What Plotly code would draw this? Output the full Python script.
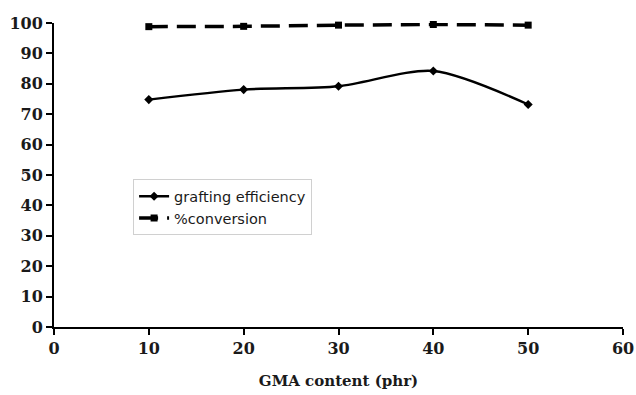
import plotly.graph_objects as go

gma_content = [10, 20, 30, 40, 50]
grafting_efficiency = [74.8, 78.1, 79.2, 84.2, 73.2]
conversion = [98.8, 98.9, 99.3, 99.5, 99.3]

x_ticks = [0, 10, 20, 30, 40, 50, 60]
y_ticks = [0, 10, 20, 30, 40, 50, 60, 70, 80, 90, 100]

fig = go.Figure()
fig.add_trace(go.Scatter(
    x=gma_content, y=grafting_efficiency, name="grafting efficiency",
    mode="lines+markers", line=dict(color="black", width=2.4, shape="spline", smoothing=0.8),
    marker=dict(symbol="diamond", size=7, color="black"),
    cliponaxis=False,
))
fig.add_trace(go.Scatter(
    x=gma_content, y=conversion, name="%conversion",
    mode="lines+markers", line=dict(color="black", width=3.5, dash="19px,9px"),
    marker=dict(symbol="square", size=7, color="black"),
    cliponaxis=False,
))

tick_font = dict(family="DejaVu Serif", size=16, color="#1a1a1a")
fig.update_layout(
    width=636, height=395,
    margin=dict(l=54, r=13, t=23, b=68),
    paper_bgcolor="white", plot_bgcolor="white",
    showlegend=True,
    legend=dict(
        x=0.139, y=0.486, xanchor="left", yanchor="top",
        bordercolor="#d0d0d0", borderwidth=1, bgcolor="white",
        font=dict(family="DejaVu Sans", size=14.5, color="#1a1a1a"),
        tracegroupgap=0, itemwidth=30,
    ),
    xaxis=dict(
        range=[0, 60], tickvals=x_ticks, ticktext=[f"<b>{v}</b>" for v in x_ticks],
        showgrid=False, zeroline=False, automargin=False,
        showline=True, linecolor="black", linewidth=2,
        ticks="outside", ticklen=6, tickwidth=2, tickcolor="black",
        tickfont=tick_font,
        title=dict(text="<b>GMA content (phr)</b>",
                   font=dict(family="DejaVu Serif", size=15, color="#1a1a1a"), standoff=18),
    ),
    yaxis=dict(
        range=[0, 100], tickvals=y_ticks, ticktext=[f"<b>{v}</b>" for v in y_ticks],
        showgrid=False, zeroline=False, automargin=False,
        showline=True, linecolor="black", linewidth=2,
        ticks="outside", ticklen=6, tickwidth=2, tickcolor="black",
        tickfont=tick_font,
    ),
)

fig.write_html("out.html")
